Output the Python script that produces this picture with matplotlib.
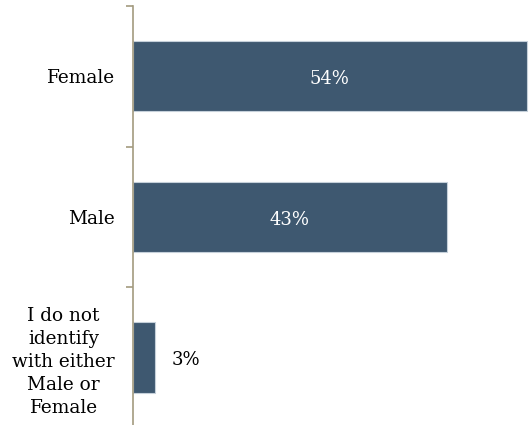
import matplotlib
matplotlib.use("Agg")
import matplotlib.pyplot as plt

categories = ["Female", "Male", "I do not\nidentify\nwith either\nMale or\nFemale"]
values = [54, 43, 3]
value_labels = ["54%", "43%", "3%"]

bar_color = "#3e5870"
spine_color = "#a39b7f"

plt.rcParams["font.family"] = ["DejaVu Serif"]

fig = plt.figure(figsize=(5.29, 4.25), dpi=100)
ax = fig.add_axes([0.2514, -0.007, 0.7486, 0.993])

y = list(range(len(categories)))
bars = ax.barh(y, values, height=0.5, color=bar_color,
               edgecolor="#c5d0da", linewidth=0.8)

ax.set_xlim(0, 54.3)
ax.set_ylim(len(categories) - 0.5, -0.5)

# value labels: inside the long bars, beside the short one
for rect, v, lab in zip(bars, values, value_labels):
    cy = rect.get_y() + rect.get_height() / 2 + 0.02
    if v > 10:
        ax.text(v / 2, cy, lab, ha="center", va="center",
                color="white", fontsize=13)
    else:
        ax.text(v + 4.3, cy, lab, ha="center", va="center",
                color="black", fontsize=13)

ax.set_yticks(y)
ax.set_yticklabels(categories, fontsize=13.3, multialignment="center",
                   linespacing=1.36)
ax.tick_params(axis="y", which="major", length=0, pad=13)
ax.set_yticks([i - 0.5 for i in range(len(categories) + 1)], minor=True)
ax.tick_params(axis="y", which="minor", length=5, width=1.2, color=spine_color)
ax.set_xticks([])

for side in ["top", "right", "bottom"]:
    ax.spines[side].set_visible(False)
ax.spines["left"].set_color(spine_color)
ax.spines["left"].set_linewidth(1.2)

fig.savefig("out.png", dpi=100)
